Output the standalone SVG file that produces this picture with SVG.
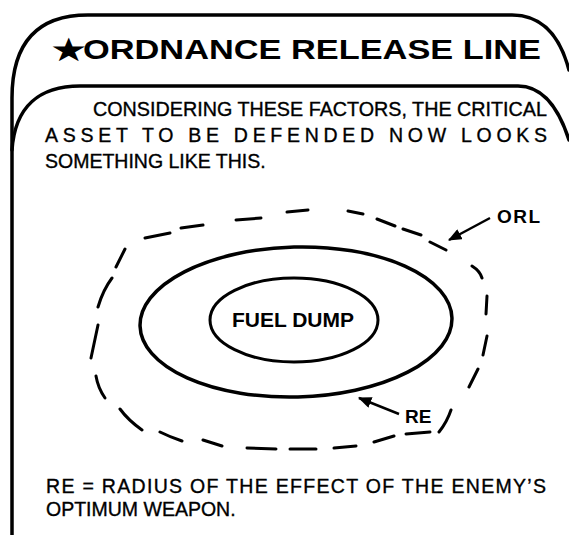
<svg xmlns="http://www.w3.org/2000/svg" width="569" height="535" viewBox="0 0 569 535">
<defs>
<style>
.frame{fill:none;stroke:#000;stroke-width:3.5;stroke-linecap:round;stroke-linejoin:round}
.sol{fill:none;stroke:#000;stroke-width:3.5}
.dash{fill:none;stroke:#000;stroke-width:3;stroke-linecap:round}
.arr{fill:none;stroke:#000;stroke-width:2.5;marker-end:url(#ah)}
.t{font-family:"Liberation Sans","Noto Sans",Arial,sans-serif;fill:#000}
.title{font-size:28px;font-weight:bold}
.body{font-size:19.5px;stroke:#000;stroke-width:0.35}
.lbl{font-size:19px;font-weight:bold}
.fd{font-size:21px;font-weight:bold}
</style>
<marker id="ah" viewBox="0 0 12 10" refX="11" refY="5" markerWidth="5.5" markerHeight="4.5" orient="auto" markerUnits="strokeWidth">
<path d="M0,0 L12,5 L0,10 Z" fill="#000"/>
</marker>
</defs>
<rect width="569" height="535" fill="#fff"/>
<g id="frame">
<path class="frame" d="M12,535 L12,98 C12,42 38,15 88,15 L512,15 C545,15 561,40 569,70"/>
<path class="frame" d="M12,150 C15,106 40,86 80,86 L518,86 C545,86 560,112 569,140"/>
</g>
<g id="title">
<text class="t title" transform="translate(52 60) scale(1.35 1.05)" x="0" y="0" font-family="DejaVu Sans,sans-serif" font-size="31">★</text>
<text class="t title" x="83" y="59" textLength="458" lengthAdjust="spacingAndGlyphs">ORDNANCE RELEASE LINE</text>
</g>
<g id="intro">
<text class="t body" x="93" y="116" textLength="454" lengthAdjust="spacingAndGlyphs">CONSIDERING THESE FACTORS, THE CRITICAL</text>
<text class="t body" x="45" y="142" textLength="502" lengthAdjust="spacing">ASSET TO BE DEFENDED NOW LOOKS</text>
<text class="t body" x="45" y="168">SOMETHING LIKE THIS.</text>
</g>
<g id="orl">
<path class="dash" d="M287,212 L308,210 M348,211 L363,214 M377,219 L395,226 M403,229 L421,235 M430,242 L446,250 M472,266 Q480,271 482,278 M487,296 L486,314 M487,336 L483,355 M478,369 L469,387 M451,410 Q447,422 439,432 M430,432 L406,434 M394,436 L374,442 M356,446 L334,448 M316,449 L290,449 M276,449 L247,448 M222,446 L203,440 M182,441 Q170,437 160,432 M142,430 Q128,420 120,409 M105,398 Q98,388 96,376 M91,358 L98,325 M98,307 Q103,290 112,278 M116,267 L125,249 M145,238 L170,233 M181,228 L203,225 M236,220 L261,218"/>
</g>
<g id="re">
<ellipse class="sol" cx="296" cy="322" rx="156" ry="75" transform="rotate(-1.5 296 322)"/>
</g>
<g id="fuel-dump">
<ellipse class="sol" cx="294" cy="320" rx="84" ry="42" style="stroke-width:3"/>
<text class="t fd" x="293" y="327" text-anchor="middle" textLength="122" lengthAdjust="spacingAndGlyphs">FUEL DUMP</text>
</g>
<g id="connectors">
<line class="arr" x1="490" y1="218" x2="449" y2="240"/>
<line class="arr" x1="399" y1="414" x2="359" y2="398"/>
</g>
<g id="labels">
<text class="t lbl" x="497" y="223" textLength="43" lengthAdjust="spacing">ORL</text>
<text class="t lbl" x="405" y="423">RE</text>
</g>
<g id="note">
<text class="t body" x="46" y="493" textLength="500" lengthAdjust="spacing">RE = RADIUS OF THE EFFECT OF THE ENEMY’S</text>
<text class="t body" x="46" y="516">OPTIMUM WEAPON.</text>
</g>
</svg>
